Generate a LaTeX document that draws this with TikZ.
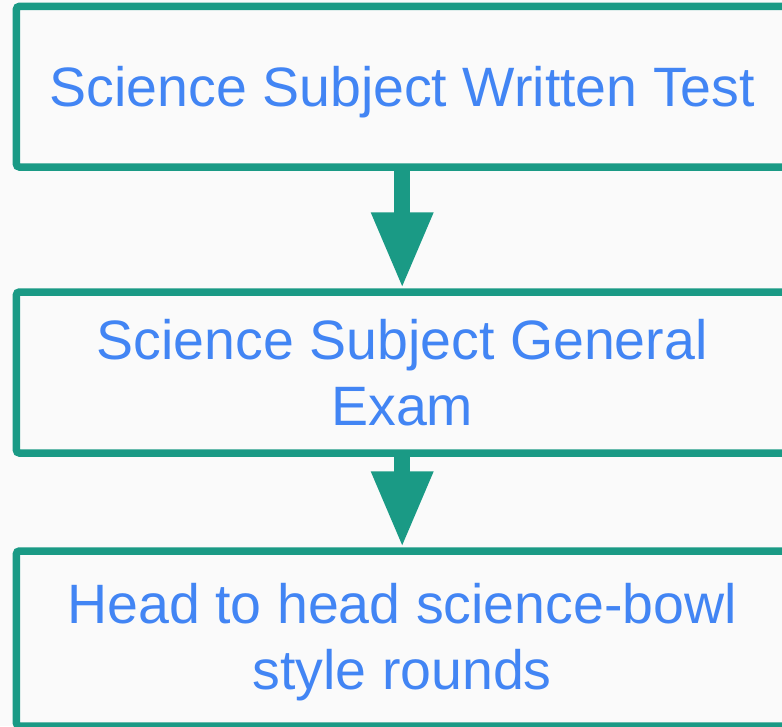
\documentclass[tikz,border=0pt]{standalone}
\usepackage{fontspec}
\setmainfont{Liberation Sans}
\usetikzlibrary{arrows.meta}
\definecolor{teal1}{RGB}{26,154,133}
\definecolor{blue1}{RGB}{66,133,244}
\definecolor{bg}{RGB}{250,250,250}
\begin{document}
\begin{tikzpicture}[x=1pt,y=-1pt,
  box/.style={draw=teal1,line width=7.5pt,rounded corners=3pt,fill=bg,
    minimum width=771.6pt,inner sep=0pt,align=center,text=blue1,
    font=\fontsize{55.5}{66}\selectfont},
  boxtext/.style={inner sep=0pt,align=center,text=blue1,
    font=\fontsize{55.5}{66}\selectfont},
  flow/.style={draw=teal1,line width=16pt,-{Triangle[width=58pt,length=76pt]}}]
\fill[bg] (0,0) rectangle (782,726);
\useasboundingbox (0,0) rectangle (782,726);
\node[box,minimum height=160.6pt,text depth=0pt] (b1) at (402.2,86.7) {Science Subject Written Test};
\node[box,minimum height=161pt] (b2) at (402.2,372.5) {Science Subject General\\Exam};
\node[box,minimum height=175pt] (b3) at (402.2,638.5) {};
\node[boxtext] (t3) at (402.2,642.5) {Head to head science-bowl\\style rounds};
\draw[flow] (b1.south) -- (b2.north);
\draw[flow] (b2.south) -- (b3.north);
\end{tikzpicture}
\end{document}
